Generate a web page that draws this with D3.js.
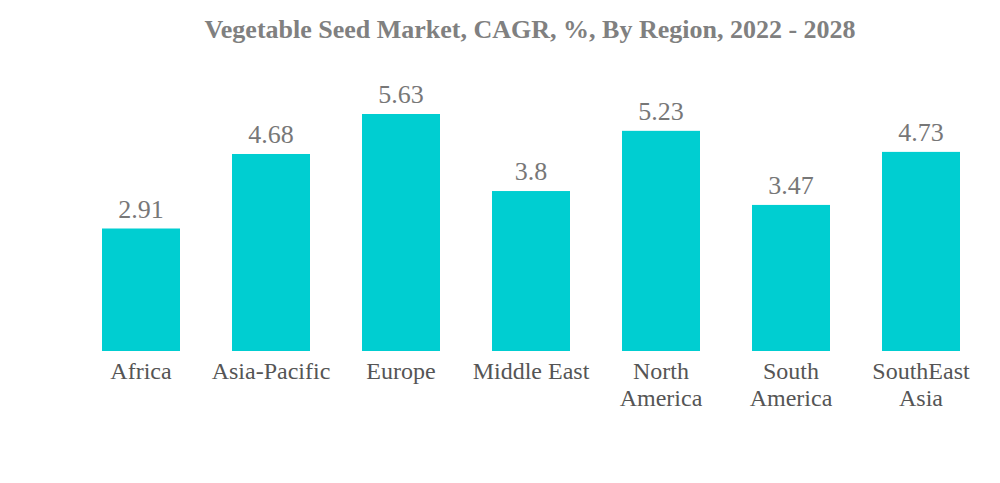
<!DOCTYPE html>
<html>
<head>
<meta charset="utf-8">
<script src="https://cdn.jsdelivr.net/npm/d3@7"></script>
<style>
    body { margin: 0; background: #fff; }
    text { font-family: "Liberation Serif", "Times New Roman", serif; }
</style>
</head>
<body>
<svg id="chart" width="1000" height="483"></svg>
<script>
const regions = ["Africa", "Asia-Pacific", "Europe", "Middle East", "North America", "South America", "SouthEast Asia"],
    cagr = [2.91, 4.68, 5.63, 3.8, 5.23, 3.47, 4.73],
    labelLines = [["Africa"], ["Asia-Pacific"], ["Europe"], ["Middle East"], ["North", "America"], ["South", "America"], ["SouthEast", "Asia"]];

const width = 1000,
    height = 483,
    baseline = 351,
    svg = d3.select("#chart");

const x = d3.scaleBand()
    .domain(regions)
    .range([76, 986])
    .paddingInner(0.4)
    .paddingOuter(0.2);

const y = d3.scaleLinear()
    .domain([0, 5.63])
    .range([baseline, 114]);

svg.append("text")
    .attr("x", 530)
    .attr("y", 38)
    .attr("text-anchor", "middle")
    .style("font-size", "26px")
    .style("font-weight", "bold")
    .style("fill", "#808080")
    .text("Vegetable Seed Market, CAGR, %, By Region, 2022 - 2028");

const bars = svg.selectAll(".bar")
    .data(regions)
    .enter().append("g")
    .attr("class", "bar");

bars.append("rect")
    .attr("x", d => x(d))
    .attr("width", x.bandwidth())
    .attr("y", (d, i) => y(cagr[i]))
    .attr("height", (d, i) => baseline - y(cagr[i]))
    .style("fill", "#00CED1");

bars.append("text")
    .attr("x", d => x(d) + x.bandwidth() / 2)
    .attr("y", (d, i) => y(cagr[i]) - 11)
    .attr("text-anchor", "middle")
    .style("font-size", "26px")
    .style("fill", "#777")
    .text((d, i) => cagr[i]);

const labels = bars.append("text")
    .attr("x", d => x(d) + x.bandwidth() / 2)
    .attr("y", baseline + 28)
    .attr("text-anchor", "middle")
    .style("font-size", "24px")
    .style("fill", "#555");

labels.selectAll("tspan")
    .data((d, i) => labelLines[i])
    .enter().append("tspan")
    .attr("x", function () { return this.parentNode.getAttribute("x"); })
    .attr("dy", (d, i) => i ? 27 : 0)
    .text(d => d);
</script>
</body>
</html>
